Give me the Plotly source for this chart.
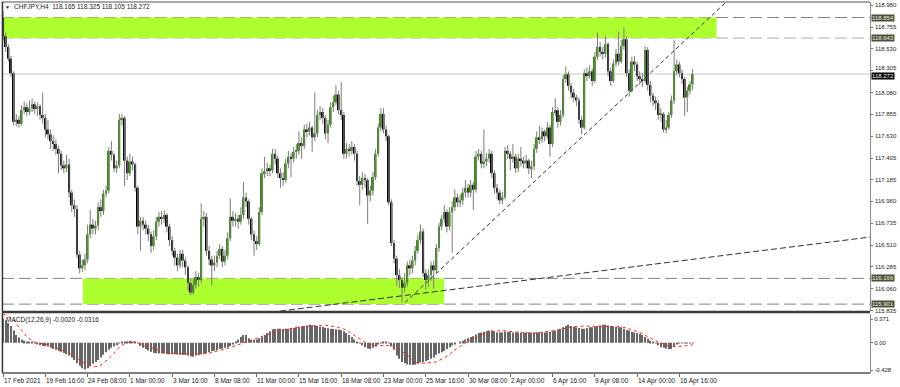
import plotly.graph_objects as go

# ---------------- data ----------------
symbol_title = "CHFJPY,H4  118.165 118.325 118.105 118.272"
macd_title = "MACD(12,26,9) -0.0020 -0.0316"

time_labels = ["17 Feb 2021", "19 Feb 16:00", "24 Feb 08:00", "1 Mar 00:00", "3 Mar 16:00",
               "8 Mar 08:00", "11 Mar 00:00", "15 Mar 16:00", "18 Mar 08:00", "23 Mar 00:00",
               "25 Mar 16:00", "30 Mar 08:00", "2 Apr 00:00", "6 Apr 16:00", "9 Apr 08:00",
               "14 Apr 00:00", "16 Apr 16:00"]
bars_per_label = 16

opens = [
118.85,118.66,118.55,118.43,118.28,117.78,117.80,117.76,117.90,117.93,
117.88,117.92,117.96,117.91,117.94,117.85,117.82,117.70,117.65,117.58,
117.55,117.50,117.45,117.33,117.30,117.34,117.05,116.92,116.88,116.41,
116.27,116.30,116.36,116.62,116.72,116.68,116.71,116.90,116.86,117.04,
117.07,117.48,117.44,117.30,117.33,117.80,117.82,117.38,117.25,117.37,
117.34,117.10,116.70,116.76,116.72,116.68,116.62,116.50,116.60,116.75,
116.80,116.78,116.82,116.70,116.56,116.45,116.38,116.30,116.42,116.35,
116.28,116.12,116.02,116.10,116.18,116.15,116.78,116.80,116.45,116.36,
116.30,116.33,116.40,116.47,116.34,116.40,116.58,116.80,116.76,116.78,
116.75,116.82,117.00,116.96,116.78,116.62,116.55,116.52,116.85,117.25,
117.27,117.30,117.28,117.45,117.40,117.25,117.20,117.18,117.35,117.42,
117.40,117.47,117.48,117.56,117.53,117.70,117.68,117.72,117.62,117.66,
117.85,117.88,117.82,117.66,117.75,117.93,117.98,118.06,117.90,117.85,
117.45,117.50,117.48,117.52,117.45,117.17,117.13,117.20,117.18,117.02,
117.07,117.21,117.45,117.72,117.86,117.70,117.63,116.95,116.53,116.37,
116.20,116.15,116.07,116.12,116.30,116.27,116.35,116.45,116.56,116.65,
116.22,116.15,116.20,116.30,116.25,116.48,116.70,116.78,116.85,116.70,
116.85,116.90,117.00,116.95,116.97,117.05,117.10,117.05,117.13,117.08,
117.42,117.45,117.35,117.37,117.40,117.45,117.25,117.10,117.05,116.97,
117.00,117.48,117.45,117.40,117.42,117.30,117.40,117.38,117.35,117.38,
117.30,117.32,117.50,117.62,117.60,117.68,117.63,117.72,117.55,117.88,
117.90,117.78,117.85,118.22,118.27,118.15,118.08,118.03,118.00,117.80,
117.72,118.28,118.25,118.30,118.20,118.45,118.55,118.50,118.48,118.58,
118.30,118.20,118.38,118.48,118.40,118.56,118.63,118.28,118.10,118.40,
118.37,118.25,118.22,118.20,118.52,118.16,118.05,118.00,117.97,117.85,
117.86,117.70,117.72,117.85,118.00,118.30,118.37,118.28,118.22,118.03,
118.10,118.165]

highs = [
118.92,118.70,118.58,118.46,118.30,117.86,117.84,117.95,117.99,117.97,
118.00,118.02,117.99,117.98,117.96,118.08,117.86,117.80,117.70,117.64,
117.60,117.53,117.48,117.38,117.44,117.40,117.08,116.98,116.92,116.45,
116.36,116.42,116.72,116.87,116.78,116.76,116.95,116.98,117.08,117.12,
117.52,117.58,117.46,117.38,117.86,117.86,117.84,117.42,117.45,117.42,
117.36,117.12,116.80,116.80,116.76,116.72,116.65,116.66,116.80,116.85,
116.86,116.87,116.84,116.73,116.60,116.48,116.42,116.46,116.46,116.38,
116.30,116.16,116.16,116.24,116.22,116.94,116.86,116.84,116.50,116.40,
116.40,116.45,116.52,116.50,116.46,116.64,116.99,116.86,116.84,116.82,
116.90,117.16,117.05,116.98,116.80,116.66,116.60,116.90,117.30,117.42,
117.36,117.34,117.50,117.50,117.43,117.30,117.26,117.40,117.48,117.46,
117.52,117.55,117.68,117.62,117.75,117.76,117.78,117.74,118.08,117.90,
117.94,117.92,117.85,117.80,117.98,118.05,118.16,118.10,118.19,117.88,
117.56,117.55,117.58,117.55,117.48,117.22,117.26,117.24,117.20,117.12,
117.26,117.50,117.76,117.92,117.92,117.74,117.65,116.98,116.56,116.40,
116.26,116.18,116.22,116.34,116.36,116.40,116.50,116.62,116.72,116.68,
116.26,116.26,116.34,116.35,116.52,116.74,116.82,116.92,116.88,116.90,
116.96,117.08,117.04,117.03,117.10,117.18,117.14,117.18,117.16,117.48,
117.50,117.48,117.70,117.46,117.50,117.48,117.28,117.14,117.08,117.06,
117.52,117.54,117.48,117.55,117.45,117.45,117.52,117.42,117.44,117.40,
117.38,117.55,117.68,117.74,117.72,117.70,117.78,117.75,117.93,118.02,
117.93,117.90,118.26,118.35,118.30,118.18,118.12,118.06,118.03,117.84,
118.32,118.34,118.36,118.33,118.50,118.70,118.60,118.55,118.66,118.60,
118.34,118.42,118.53,118.71,118.62,118.75,118.66,118.32,118.45,118.46,
118.40,118.30,118.28,118.56,118.55,118.20,118.08,118.04,118.00,117.92,
117.88,117.80,117.88,118.05,118.62,118.42,118.40,118.32,118.24,118.14,
118.20,118.325]

lows = [
118.62,118.50,118.40,118.24,117.74,117.73,117.72,117.74,117.86,117.84,
117.85,117.88,117.86,117.84,117.80,117.76,117.62,117.60,117.50,117.48,
117.44,117.25,117.28,117.25,117.26,117.00,116.85,116.80,116.38,116.22,
116.23,116.25,116.32,116.58,116.62,116.62,116.66,116.80,116.82,117.00,
117.04,117.38,117.26,117.25,117.30,117.74,117.12,117.18,117.22,117.28,
117.06,116.62,116.45,116.66,116.62,116.55,116.43,116.46,116.56,116.70,
116.72,116.74,116.64,116.50,116.40,116.30,116.24,116.27,116.28,116.20,
116.04,115.99,116.00,116.06,116.08,116.12,116.70,116.40,116.30,116.10,
116.24,116.28,116.36,116.28,116.30,116.36,116.55,116.70,116.70,116.68,
116.72,116.78,116.90,116.72,116.56,116.40,116.46,116.50,116.82,117.20,
117.22,117.22,117.25,117.34,117.20,117.10,117.12,117.15,117.30,117.21,
117.36,117.40,117.44,117.40,117.50,117.62,117.64,117.47,117.58,117.62,
117.80,117.76,117.60,117.56,117.72,117.88,117.95,117.86,117.80,117.40,
117.40,117.42,117.44,117.38,117.12,116.92,117.08,117.10,116.73,116.96,
117.02,117.18,117.42,117.68,117.66,117.58,116.92,116.50,116.32,116.09,
116.07,115.92,116.02,116.08,116.20,116.22,116.30,116.42,116.52,116.18,
116.05,116.08,116.14,116.06,116.22,116.44,116.66,116.74,116.64,116.66,
116.43,116.86,116.90,116.90,116.92,117.00,117.00,117.00,116.87,117.05,
117.38,117.30,117.30,117.32,117.36,117.20,117.04,116.98,116.93,116.93,
116.98,117.40,117.28,117.36,117.25,117.26,117.32,117.30,117.30,117.24,
117.20,117.28,117.46,117.55,117.56,117.58,117.60,117.42,117.52,117.84,
117.72,117.74,117.82,118.18,118.10,118.02,117.98,117.94,117.76,117.65,
117.70,118.20,118.22,118.15,118.18,118.42,118.45,118.42,118.44,118.25,
118.15,118.18,118.35,118.36,118.38,118.52,118.24,118.04,118.08,118.30,
118.20,118.16,118.14,118.18,118.10,117.98,117.94,117.90,117.80,117.78,
117.67,117.66,117.70,117.82,117.96,118.26,118.24,118.17,117.84,117.88,
118.06,118.105]

closes = [
118.66,118.55,118.43,118.28,117.78,117.80,117.76,117.90,117.93,117.88,
117.92,117.96,117.91,117.94,117.85,117.82,117.70,117.65,117.58,117.55,
117.50,117.45,117.33,117.30,117.34,117.05,116.92,116.88,116.41,116.27,
116.30,116.36,116.62,116.72,116.68,116.71,116.90,116.86,117.04,117.07,
117.48,117.44,117.30,117.33,117.80,117.82,117.38,117.25,117.37,117.34,
117.10,116.70,116.76,116.72,116.68,116.62,116.50,116.60,116.75,116.80,
116.78,116.82,116.70,116.56,116.45,116.38,116.30,116.42,116.35,116.28,
116.12,116.02,116.10,116.18,116.15,116.78,116.80,116.45,116.36,116.30,
116.33,116.40,116.47,116.34,116.40,116.58,116.80,116.76,116.78,116.75,
116.82,117.00,116.96,116.78,116.62,116.55,116.52,116.85,117.25,117.27,
117.30,117.28,117.45,117.40,117.25,117.20,117.18,117.35,117.42,117.40,
117.47,117.48,117.56,117.53,117.70,117.68,117.72,117.62,117.66,117.85,
117.88,117.82,117.66,117.75,117.93,117.98,118.06,117.90,117.85,117.45,
117.50,117.48,117.52,117.45,117.17,117.13,117.20,117.18,117.02,117.07,
117.21,117.45,117.72,117.86,117.70,117.63,116.95,116.53,116.37,116.20,
116.15,116.07,116.12,116.30,116.27,116.35,116.45,116.56,116.65,116.22,
116.15,116.20,116.30,116.25,116.48,116.70,116.78,116.85,116.70,116.85,
116.90,117.00,116.95,116.97,117.05,117.10,117.05,117.13,117.08,117.42,
117.45,117.35,117.37,117.40,117.45,117.25,117.10,117.05,116.97,117.00,
117.48,117.45,117.40,117.42,117.30,117.40,117.38,117.35,117.38,117.30,
117.32,117.50,117.62,117.60,117.68,117.63,117.72,117.55,117.88,117.90,
117.78,117.85,118.22,118.27,118.15,118.08,118.03,118.00,117.80,117.72,
118.28,118.25,118.30,118.20,118.45,118.55,118.50,118.48,118.58,118.30,
118.20,118.38,118.48,118.40,118.56,118.63,118.28,118.10,118.40,118.37,
118.25,118.22,118.20,118.52,118.16,118.05,118.00,117.97,117.85,117.86,
117.70,117.72,117.85,118.00,118.30,118.37,118.28,118.22,118.03,118.10,
118.165,118.272]

macd_main = [
0.38,0.35,0.31,0.26,0.19,0.12,0.08,0.05,0.03,0.02,
0.015,0.01,-0.01,-0.02,-0.04,-0.05,-0.055,-0.06,-0.08,-0.10,
-0.11,-0.13,-0.14,-0.16,-0.18,-0.20,-0.23,-0.27,-0.32,-0.36,
-0.40,-0.42,-0.40,-0.37,-0.33,-0.30,-0.27,-0.23,-0.19,-0.15,
-0.11,-0.08,-0.06,-0.04,-0.01,0.005,0.015,0.02,0.025,0.02,
0.015,-0.01,-0.05,-0.08,-0.10,-0.12,-0.14,-0.16,-0.165,-0.17,
-0.17,-0.17,-0.175,-0.18,-0.18,-0.18,-0.185,-0.19,-0.19,-0.19,
-0.20,-0.21,-0.22,-0.20,-0.19,-0.18,-0.17,-0.16,-0.15,-0.135,
-0.125,-0.115,-0.10,-0.09,-0.08,-0.07,-0.05,-0.02,0.01,0.05,
0.09,0.12,0.12,0.07,0.04,0.045,0.05,0.07,0.09,0.12,
0.15,0.18,0.21,0.215,0.22,0.22,0.215,0.22,0.22,0.225,
0.23,0.24,0.25,0.255,0.26,0.27,0.28,0.275,0.27,0.26,
0.25,0.245,0.235,0.225,0.22,0.215,0.21,0.205,0.20,0.18,
0.15,0.12,0.09,0.05,0.015,-0.01,-0.04,-0.07,-0.09,-0.10,
-0.08,-0.06,-0.03,-0.01,0.015,0.01,-0.01,-0.06,-0.11,-0.20,
-0.25,-0.30,-0.32,-0.34,-0.345,-0.35,-0.34,-0.32,-0.31,-0.30,
-0.29,-0.27,-0.25,-0.23,-0.19,-0.17,-0.15,-0.13,-0.10,-0.07,
-0.04,-0.02,0.0,0.01,0.03,0.05,0.07,0.09,0.10,0.13,
0.15,0.16,0.17,0.185,0.19,0.19,0.18,0.16,0.16,0.165,
0.17,0.17,0.165,0.16,0.16,0.16,0.155,0.155,0.16,0.155,
0.16,0.16,0.165,0.16,0.165,0.16,0.165,0.17,0.18,0.19,
0.20,0.22,0.24,0.26,0.28,0.26,0.25,0.24,0.23,0.22,
0.22,0.23,0.24,0.24,0.25,0.26,0.27,0.28,0.28,0.27,
0.26,0.25,0.25,0.24,0.24,0.22,0.20,0.19,0.17,0.16,
0.15,0.14,0.12,0.09,0.06,0.03,0.01,-0.01,-0.04,-0.07,
-0.08,-0.09,-0.10,-0.10,-0.05,-0.02,-0.01,-0.005,-0.01,-0.01,
-0.005,-0.002]

macd_signal = [
0.45,0.43,0.41,0.38,0.36,0.30,0.25,0.19,0.14,0.09,
0.06,0.03,0.01,0.0,-0.005,-0.01,-0.02,-0.03,-0.045,-0.06,
-0.075,-0.09,-0.105,-0.12,-0.135,-0.16,-0.185,-0.21,-0.24,-0.27,
-0.30,-0.32,-0.34,-0.36,-0.37,-0.375,-0.37,-0.35,-0.32,-0.28,
-0.25,-0.21,-0.17,-0.12,-0.07,-0.04,-0.015,0.005,0.01,0.015,
0.01,0.0,-0.015,-0.03,-0.05,-0.065,-0.08,-0.10,-0.115,-0.13,
-0.14,-0.15,-0.16,-0.165,-0.165,-0.17,-0.17,-0.17,-0.175,-0.175,
-0.18,-0.18,-0.18,-0.18,-0.18,-0.18,-0.175,-0.17,-0.165,-0.155,
-0.145,-0.135,-0.125,-0.115,-0.10,-0.09,-0.075,-0.06,-0.045,-0.03,
-0.015,0.0,0.016,0.03,0.045,0.06,0.07,0.09,0.10,0.115,
0.13,0.145,0.16,0.17,0.18,0.19,0.20,0.21,0.215,0.22,
0.23,0.24,0.25,0.25,0.255,0.26,0.26,0.26,0.265,0.265,
0.27,0.27,0.27,0.27,0.265,0.26,0.25,0.24,0.225,0.21,
0.20,0.17,0.14,0.11,0.09,0.06,0.03,0.01,-0.01,-0.025,
-0.035,-0.05,-0.05,-0.045,-0.04,-0.04,-0.045,-0.05,-0.055,-0.06,
-0.09,-0.13,-0.17,-0.19,-0.23,-0.27,-0.31,-0.32,-0.325,-0.32,
-0.32,-0.315,-0.31,-0.305,-0.30,-0.28,-0.26,-0.24,-0.22,-0.19,
-0.14,-0.11,-0.08,-0.05,-0.03,-0.01,0.02,0.045,0.07,0.09,
0.11,0.13,0.145,0.16,0.175,0.18,0.185,0.19,0.19,0.19,
0.185,0.18,0.17,0.17,0.165,0.16,0.16,0.155,0.155,0.15,
0.15,0.15,0.155,0.16,0.16,0.165,0.165,0.17,0.18,0.19,
0.20,0.21,0.22,0.23,0.235,0.24,0.25,0.255,0.26,0.26,
0.26,0.26,0.26,0.26,0.26,0.26,0.26,0.26,0.26,0.26,
0.26,0.26,0.255,0.25,0.25,0.24,0.23,0.22,0.205,0.19,
0.175,0.16,0.14,0.115,0.09,0.07,0.05,0.03,0.01,-0.01,
-0.025,-0.04,-0.05,-0.06,-0.06,-0.06,-0.06,-0.055,-0.05,-0.045,
-0.04,-0.032]

price_ticks = [118.980, 118.755, 118.530, 118.305, 118.080, 117.855, 117.630, 117.405,
               117.185, 116.960, 116.735, 116.510, 116.285, 116.060, 115.835]
macd_ticks = [0.371, 0.0, -0.428]
macd_tick_text = ["0.371", "0.00", "-0.428"]

current_price = 118.272
level_upper_top = 118.854
level_upper_bottom = 118.643
level_lower_top = 116.166
level_lower_bottom = 115.901
supply_zone_bars = [-1.0, 270.1]
demand_zone_bars = [30.2, 167.0]
steep_trend_bars = [152.2, 273.7]
steep_trend_prices = [115.918, 119.014]
shallow_trend_bars = [101.4, 328.5]
shallow_trend_prices = [115.817, 116.593]

# ---------------- geometry helpers (styling only) ----------------
W, H = 900, 387
ML, MR, MT, MB = 2, 30, 2, 14
PX0, PX1, PY0, PY1 = ML, W - MR, MT, H - MB   # plot area in px


def pyp(ypx):
    return (PY1 - ypx) / (PY1 - PY0)


def pxp(xpx):
    return (xpx - PX0) / (PX1 - PX0)


n = len(closes)
idx = list(range(n))
FONT = "Liberation Sans, Arial, sans-serif"
TXT = "#222222"

fig = go.Figure()

# wicks
wx, wy = [], []
for i in idx:
    wx += [i, i, None]
    wy += [lows[i], highs[i], None]
fig.add_trace(go.Scatter(x=wx, y=wy, mode="lines", line=dict(color="#7a7a7a", width=1),
                         hoverinfo="skip", showlegend=False, xaxis="x", yaxis="y"))

# bodies
for bull in (True, False):
    sel = [i for i in idx if (closes[i] >= opens[i]) == bull]
    fig.add_trace(go.Bar(
        x=sel,
        base=[min(opens[i], closes[i]) for i in sel],
        y=[max(abs(closes[i] - opens[i]), 0.007) for i in sel],
        width=0.75,
        marker=dict(color="#3c8c10" if bull else "#000000", line=dict(width=0)),
        hoverinfo="skip", showlegend=False, xaxis="x", yaxis="y"))

# trend lines
fig.add_trace(go.Scatter(x=steep_trend_bars, y=steep_trend_prices, mode="lines",
                         line=dict(color="#303030", width=1, dash="4px,3px"),
                         hoverinfo="skip", showlegend=False, xaxis="x", yaxis="y"))
fig.add_trace(go.Scatter(x=shallow_trend_bars, y=shallow_trend_prices, mode="lines",
                         line=dict(color="#303030", width=1, dash="6px,3px"),
                         hoverinfo="skip", showlegend=False, xaxis="x", yaxis="y"))

# MACD
fig.add_trace(go.Bar(x=idx, y=macd_main, width=0.4,
                     marker=dict(color="#666666", line=dict(width=0)),
                     hoverinfo="skip", showlegend=False, xaxis="x2", yaxis="y2"))
fig.add_trace(go.Scatter(x=idx, y=macd_signal, mode="lines",
                         line=dict(color="#ff2020", width=1, dash="dot"),
                         hoverinfo="skip", showlegend=False, xaxis="x2", yaxis="y2"))

x_range = [-0.4, (PX1 - PX0) / 2.642 - 0.4]
tick_bars = [k * bars_per_label for k in range(len(time_labels))]

shapes = [
    dict(type="rect", xref="x", yref="y", x0=supply_zone_bars[0], x1=supply_zone_bars[1],
         y0=level_upper_bottom, y1=level_upper_top, fillcolor="#adff2f", line=dict(width=0), layer="below"),
    dict(type="rect", xref="x", yref="y", x0=demand_zone_bars[0], x1=demand_zone_bars[1],
         y0=level_lower_bottom, y1=level_lower_top, fillcolor="#adff2f", line=dict(width=0), layer="below"),
]
for lvl, col in [(level_upper_top, "#808080"), (level_upper_bottom, "#a8a8a0"),
                 (level_lower_top, "#808080"), (level_lower_bottom, "#808080")]:
    shapes.append(dict(type="line", xref="paper", yref="y", x0=0, x1=1, y0=lvl, y1=lvl,
                       line=dict(color=col, width=1, dash="12px,5px"), layer="below"))
shapes.append(dict(type="line", xref="paper", yref="y", x0=0, x1=1, y0=current_price, y1=current_price,
                   line=dict(color="#c8c8c8", width=1), layer="below"))
# frame
shapes += [
    dict(type="line", xref="paper", yref="paper", x0=0, x1=1, y0=1, y1=1, line=dict(color="#555555", width=1)),
    dict(type="line", xref="paper", yref="paper", x0=0.0005, x1=0.0005, y0=0, y1=1, line=dict(color="#333333", width=1.5)),
    dict(type="line", xref="paper", yref="paper", x0=0, x1=1, y0=pyp(312), y1=pyp(312), line=dict(color="#3c3c3c", width=2.5)),
    dict(type="line", xref="paper", yref="paper", x0=0, x1=1, y0=0, y1=0, line=dict(color="#555555", width=1.5)),
]

annotations = [
    dict(text="▼", xref="paper", yref="paper", x=pxp(3), y=pyp(6.5), xanchor="left", yanchor="middle",
         showarrow=False, font=dict(size=5, color=TXT, family=FONT)),
    dict(text=symbol_title, xref="paper", yref="paper", x=pxp(12), y=pyp(6.5), xanchor="left", yanchor="middle",
         showarrow=False, font=dict(size=6.5, color=TXT, family=FONT)),
    dict(text=macd_title, xref="paper", yref="paper", x=pxp(4), y=pyp(320), xanchor="left", yanchor="middle",
         showarrow=False, font=dict(size=6.5, color=TXT, family=FONT)),
]
for b, lab in zip(tick_bars, time_labels):
    annotations.append(dict(text=lab, xref="x2", yref="paper", x=b, y=pyp(380.5), xanchor="left",
                            yanchor="middle", xshift=-1.5, showarrow=False,
                            font=dict(size=6.5, color=TXT, family=FONT)))

# price-axis labels as annotations (the one next to the live price is nudged up so it stays readable)
for v in price_ticks:
    shift = 3 if abs(v - current_price) < 0.05 else 0
    annotations.append(dict(text=f"{v:.3f}", xref="paper", yref="y", x=1, y=v, xanchor="left",
                            yanchor="middle", xshift=3, yshift=shift, showarrow=False,
                            font=dict(size=6, color=TXT, family=FONT)))
for lvl, bg, fg, ys in [(level_upper_top, "#4e4e3e", "#eeeede", 0), (level_upper_bottom, "#4e4e3e", "#eeeede", 0),
                        (current_price, "#000000", "#ffffff", -1.5),
                        (level_lower_top, "#4e4e3e", "#eeeede", 0), (level_lower_bottom, "#4e4e3e", "#eeeede", 0)]:
    annotations.append(dict(text=f"{lvl:.3f}", xref="paper", yref="y", x=1, y=lvl, xanchor="left",
                            yanchor="middle", xshift=1, yshift=ys, showarrow=False, bgcolor=bg, borderpad=0,
                            font=dict(size=6, color=fg, family=FONT)))

fig.update_layout(
    width=W, height=H,
    margin=dict(l=ML, r=MR, t=MT, b=MB, pad=0),
    paper_bgcolor="white", plot_bgcolor="white",
    barmode="overlay",
    showlegend=False,
    shapes=shapes,
    annotations=annotations,
    xaxis=dict(domain=[0, 1], range=x_range, anchor="y", showticklabels=False, showgrid=False,
               zeroline=False, showline=False, ticks=""),
    xaxis2=dict(domain=[0, 1], range=x_range, anchor="y2", matches="x", showticklabels=False,
                showgrid=False, zeroline=False, showline=False, ticks="outside", ticklen=3,
                tickcolor="#666666", tickvals=tick_bars),
    yaxis=dict(domain=[pyp(311), 1], range=[115.830, 119.014], side="right", anchor="x",
               tickvals=price_ticks, showticklabels=False,
               ticks="outside", ticklen=2, tickcolor="#777777",
               showline=True, linecolor="#8a8a8a", linewidth=1, showgrid=False, zeroline=False),
    yaxis2=dict(domain=[0, pyp(313.5)], range=[-0.474, 0.457], side="right", anchor="x2",
                tickvals=macd_ticks, ticktext=macd_tick_text,
                ticks="outside", ticklen=2, tickcolor="#777777",
                tickfont=dict(size=6, color=TXT, family=FONT),
                showline=True, linecolor="#8a8a8a", linewidth=1, showgrid=False, zeroline=False),
)

fig.write_html("out.html", config={"displayModeBar": False})
